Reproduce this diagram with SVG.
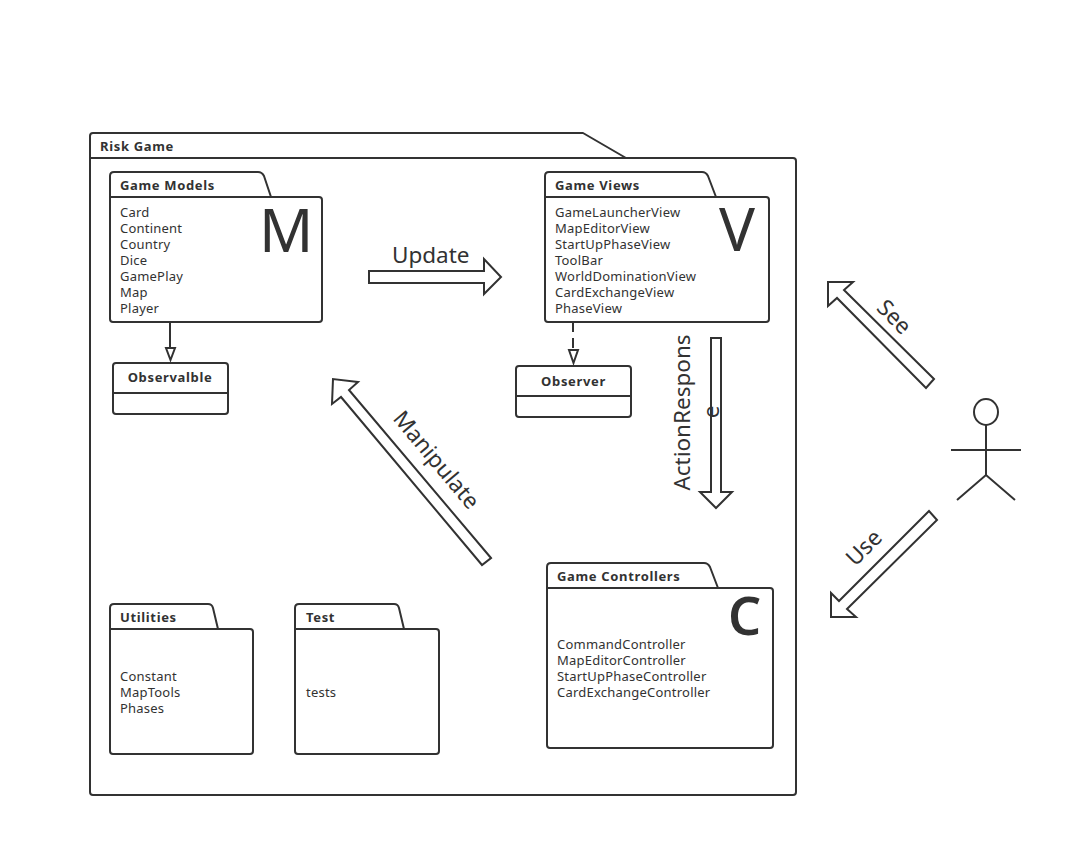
<svg xmlns="http://www.w3.org/2000/svg" width="1082" height="857" viewBox="0 0 1082 857">
<style>
.s{fill:#fff;stroke:#323232;stroke-width:2;stroke-linejoin:round}
.n{fill:none;stroke:#323232;stroke-width:2}
.a{fill:#fff;stroke:#323232;stroke-width:2;stroke-linejoin:miter}
text{font-family:"Noto Sans","Open Sans","Liberation Sans",sans-serif;fill:#323232}
.t{font-size:13px;font-weight:700;letter-spacing:.65px}
.c{font-size:13px;letter-spacing:.22px}
.b{font-size:22.500px}
.h{font-size:60px}
</style>
<rect width="1082" height="857" fill="#fff"/>
<g id="risk-game">
<path class="s" d="M90 158V136Q90 133 93 133H583L626 158H793Q796 158 796 161V792Q796 795 793 795H93Q90 795 90 792Z"/>
<path class="n" d="M90 158H626"/>
<text class="t" x="100" y="151">Risk Game</text>
</g>
<g id="game-models">
<path class="s" d="M110 197V176Q110 172 114 172H258Q262 172 264 176L271 197H319Q322 197 322 200V319Q322 322 319 322H113Q110 322 110 319Z"/>
<path class="n" d="M110 197H271"/>
<text class="t" x="120" y="190">Game Models</text>
<text class="c" x="120" y="217">Card</text><text class="c" x="120" y="233">Continent</text><text class="c" x="120" y="249">Country</text><text class="c" x="120" y="265">Dice</text><text class="c" x="120" y="281">GamePlay</text><text class="c" x="120" y="297">Map</text><text class="c" x="120" y="313">Player</text>
<text class="h" x="259" y="252">M</text>
</g>
<g id="observable">
<rect class="s" x="113" y="363" width="115" height="51" rx="3"/>
<path class="n" d="M113 393H228"/>
<text class="t" x="170" y="382" text-anchor="middle">Observalble</text>
</g>
<g id="game-views">
<path class="s" d="M545 197V176Q545 172 549 172H702Q706 172 708 176L716 197H766Q769 197 769 200V319Q769 322 766 322H548Q545 322 545 319Z"/>
<path class="n" d="M545 197H716"/>
<text class="t" x="555" y="190">Game Views</text>
<text class="c" x="555" y="217">GameLauncherView</text><text class="c" x="555" y="233">MapEditorView</text><text class="c" x="555" y="249">StartUpPhaseView</text><text class="c" x="555" y="265">ToolBar</text><text class="c" x="555" y="281">WorldDominationView</text><text class="c" x="555" y="297">CardExchangeView</text><text class="c" x="555" y="313">PhaseView</text>
<text class="h" x="719" y="251">V</text>
</g>
<g id="observer">
<rect class="s" x="516" y="366" width="115" height="51" rx="3"/>
<path class="n" d="M516 396H631"/>
<text class="t" x="573.500" y="386" text-anchor="middle">Observer</text>
</g>
<g id="utilities">
<path class="s" d="M110 629V608Q110 604 114 604H208Q212 604 213 608L218 629H250Q253 629 253 632V751Q253 754 250 754H113Q110 754 110 751Z"/>
<path class="n" d="M110 629H218"/>
<text class="t" x="120" y="622">Utilities</text>
<text class="c" x="120" y="681">Constant</text><text class="c" x="120" y="697">MapTools</text><text class="c" x="120" y="713">Phases</text>
</g>
<g id="test">
<path class="s" d="M295 629V608Q295 604 299 604H394Q398 604 399 608L404 629H436Q439 629 439 632V751Q439 754 436 754H298Q295 754 295 751Z"/>
<path class="n" d="M295 629H404"/>
<text class="t" x="306" y="622">Test</text>
<text class="c" x="306" y="697">tests</text>
</g>
<g id="game-controllers">
<path class="s" d="M547 588V567Q547 563 551 563H704Q708 563 710 567L718 588H770Q773 588 773 591V745Q773 748 770 748H550Q547 748 547 745Z"/>
<path class="n" d="M547 588H718"/>
<text class="t" x="557" y="581">Game Controllers</text>
<text class="c" x="557" y="649">CommandController</text><text class="c" x="557" y="665">MapEditorController</text><text class="c" x="557" y="681">StartUpPhaseController</text><text class="c" x="557" y="697">CardExchangeController</text>
<text x="728" y="635" font-size="52" font-weight="600">C</text>
</g>
<g id="actor">
<ellipse class="n" cx="986" cy="412" rx="12" ry="13"/>
<path class="n" d="M986 425V475M951 450H1021M957 500L986 475L1015 500"/>
</g>
<g id="connectors">
<path class="n" d="M170 322V348"/>
<polygon class="a" points="166,348 175,348 170.500,360"/>
<path class="n" stroke-dasharray="10 6" d="M573 322V350"/>
<polygon class="a" points="569,350 578,350 573.500,363"/>
<polygon class="a" points="369,271 484,271 484,259 501,277 484,294 484,283 369,283"/>
<polygon class="a" points="711,338 721,338 721,492 732,492 716,508 700,492 711,492"/>
<polygon class="a" points="491,558 349,390 358,382 333,379 332,404 341,397 482,565"/>
<polygon class="a" points="934,379 844,290 853,282 828,282 828,306 837,298 926,388"/>
<polygon class="a" points="929,511 839,601 831,593 831,617 856,617 847,609 937,520"/>
<text class="b" x="392" y="263">Update</text>
<text class="b" transform="translate(690 412.500) rotate(-90)" text-anchor="middle">ActionRespons</text>
<text class="b" transform="translate(719 412) rotate(-90)" text-anchor="middle">e</text>
<text class="b" transform="translate(435 461) rotate(50)" text-anchor="middle" dominant-baseline="middle">Manipulate</text>
<text class="b" transform="translate(893 318) rotate(45)" text-anchor="middle" dominant-baseline="middle">See</text>
<text class="b" transform="translate(865 549) rotate(-45)" text-anchor="middle" dominant-baseline="middle">Use</text>
</g>
</svg>
